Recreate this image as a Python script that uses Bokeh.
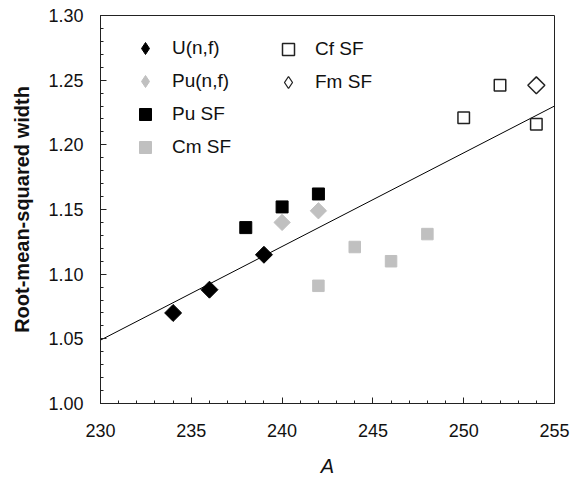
import math
from bokeh.plotting import figure
from bokeh.models import Range1d, FixedTicker, PrintfTickFormatter, Legend, LegendItem
from bokeh.embed import file_html
from bokeh.resources import INLINE

# ---- data ----
u_nf_A = [234, 236, 239]
u_nf_w = [1.070, 1.088, 1.115]
pu_nf_A = [240, 242]
pu_nf_w = [1.140, 1.149]
pu_sf_A = [238, 240, 242]
pu_sf_w = [1.136, 1.152, 1.162]
cm_sf_A = [242, 244, 246, 248]
cm_sf_w = [1.091, 1.121, 1.110, 1.131]
cf_sf_A = [250, 252, 254]
cf_sf_w = [1.221, 1.246, 1.216]
fm_sf_A = [254]
fm_sf_w = [1.246]
fit_A = [230, 255]
fit_w = [1.049, 1.230]

x_ticks = [230, 235, 240, 245, 250, 255]
x_minor = [230 + i for i in range(26)]
y_ticks = [1.00, 1.05, 1.10, 1.15, 1.20, 1.25, 1.30]
y_minor = [round(1.00 + 0.01 * i, 2) for i in range(31)]

FONT = "Liberation Sans"
GRAY = "#c0c0c0"
DARK = "#222222"

p = figure(width=581, height=485, output_backend="svg", toolbar_location=None,
           x_range=Range1d(230, 255), y_range=Range1d(1.00, 1.30),
           min_border_left=100, min_border_right=27, min_border_top=15,
           min_border_bottom=82)
p.background_fill_color = "white"
p.border_fill_color = "white"
p.outline_line_color = DARK
p.outline_line_width = 1
p.xgrid.visible = False
p.ygrid.visible = False

p.line(fit_A, fit_w, line_color="black", line_width=1)

r_u = p.scatter(u_nf_A, u_nf_w, marker="square", size=12, angle=math.pi / 4,
                fill_color="black", line_color="black")
r_punf = p.scatter(pu_nf_A, pu_nf_w, marker="square", size=11.5, angle=math.pi / 4,
                   fill_color=GRAY, line_color=GRAY)
r_pusf = p.scatter(pu_sf_A, pu_sf_w, marker="square", size=12,
                   fill_color="black", line_color="black")
r_cm = p.scatter(cm_sf_A, cm_sf_w, marker="square", size=11.5,
                 fill_color=GRAY, line_color=GRAY)
r_cf = p.scatter(cf_sf_A, cf_sf_w, marker="square", size=11.5,
                 fill_color="white", line_color=DARK, line_width=1.5)
r_fm = p.scatter(fm_sf_A, fm_sf_w, marker="square", size=12, angle=math.pi / 4,
                 fill_color="white", line_color=DARK, line_width=1.5)

# legend-only diamond renderers (hidden in the plot; the legend draws markers unrotated)
l_u = p.scatter(u_nf_A, u_nf_w, marker="diamond", size=10,
                fill_color="black", line_color="black", visible=False)
l_punf = p.scatter(pu_nf_A, pu_nf_w, marker="diamond", size=10,
                   fill_color=GRAY, line_color=GRAY, visible=False)
l_fm = p.scatter(fm_sf_A, fm_sf_w, marker="diamond", size=10,
                 fill_color="white", line_color=DARK, line_width=1.3, visible=False)

# axes
for ax in (p.xaxis[0], p.yaxis[0]):
    ax.major_tick_in = 6
    ax.major_tick_out = 0
    ax.minor_tick_in = 3
    ax.minor_tick_out = 0
    ax.axis_line_color = DARK
    ax.major_tick_line_color = DARK
    ax.minor_tick_line_color = DARK
    ax.major_label_text_font = FONT
    ax.major_label_text_font_size = "18px"
    ax.major_label_text_color = "#111111"
    ax.axis_label_text_font = FONT
    ax.axis_label_text_color = "#111111"

p.xaxis.ticker = FixedTicker(ticks=x_ticks, minor_ticks=x_minor)
p.yaxis.ticker = FixedTicker(ticks=y_ticks, minor_ticks=y_minor)
p.yaxis.formatter = PrintfTickFormatter(format="%.2f")
p.xaxis.major_label_standoff = 20
p.yaxis.major_label_standoff = 17

p.xaxis.axis_label = "A"
p.xaxis.axis_label_text_font_style = "italic"
p.xaxis.axis_label_text_font_size = "20px"
p.xaxis.axis_label_standoff = 15

p.yaxis.axis_label = "Root-mean-squared width"
p.yaxis.axis_label_text_font_style = "bold"
p.yaxis.axis_label_text_font_size = "20px"
p.yaxis.axis_label_standoff = 12

common = dict(glyph_width=30, glyph_height=30, label_height=30, spacing=3,
              label_standoff=12, padding=0, margin=0, border_line_color=None,
              background_fill_alpha=0, label_text_font=FONT,
              label_text_font_size="19px", label_text_color="#111111",
              label_text_baseline="middle", inactive_fill_alpha=0)

leg1 = Legend(items=[LegendItem(label="U(n,f)", renderers=[l_u]),
                     LegendItem(label="Pu(n,f)", renderers=[l_punf]),
                     LegendItem(label="Pu SF", renderers=[r_pusf]),
                     LegendItem(label="Cm SF", renderers=[r_cm])],
              location=(30, 241), **common)
leg2 = Legend(items=[LegendItem(label="Cf SF", renderers=[r_cf]),
                     LegendItem(label="Fm SF", renderers=[l_fm])],
              location=(173, 306), **common)
p.add_layout(leg1)
p.add_layout(leg2)

open("out.html", "w").write(file_html(p, INLINE))
